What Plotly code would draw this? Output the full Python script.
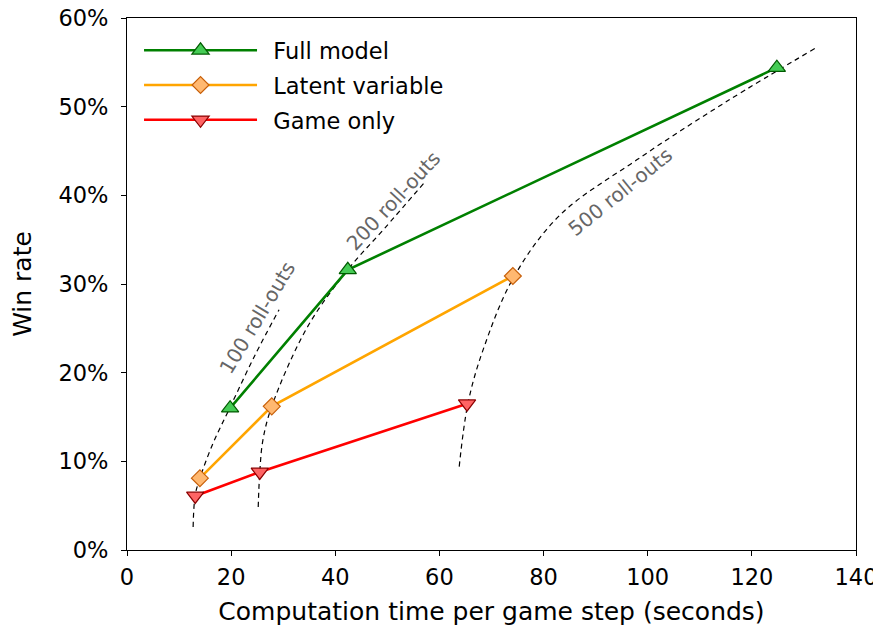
import plotly.graph_objects as go

# ---- data ----
series_names = ["Full model", "Latent variable", "Game only"]
full_x = [19.8, 42.4, 124.8]
full_y = [16.0, 31.6, 54.4]
latent_x = [14.0, 27.8, 74.1]
latent_y = [8.1, 16.2, 30.9]
game_x = [13.1, 25.5, 65.3]
game_y = [6.1, 8.8, 16.5]

# iso roll-out curves
r100_x = [12.7, 13.1, 14.0, 16.5, 19.8, 24.6, 29.2]
r100_y = [2.6, 6.2, 8.1, 12.0, 16.1, 22.0, 27.1]
r200_x = [25.2, 25.5, 26.1, 27.8, 34.6, 42.4, 49.5, 57.2]
r200_y = [4.85, 8.8, 12.4, 16.2, 25.1, 31.6, 36.3, 41.5]
r500_x = [63.8, 65.5, 68.4, 74.3, 83.2, 97.9, 115.2, 132.5]
r500_y = [9.4, 16.6, 22.6, 30.8, 37.8, 44.0, 50.6, 56.7]
rollout_labels = ["100 roll-outs", "200 roll-outs", "500 roll-outs"]

x_ticks = [0, 20, 40, 60, 80, 100, 120, 140]
y_ticks = [0, 10, 20, 30, 40, 50, 60]

FONT = "DejaVu Sans"
fig = go.Figure()

for cx, cy in [(r100_x, r100_y), (r200_x, r200_y), (r500_x, r500_y)]:
    fig.add_trace(go.Scatter(x=cx, y=cy, mode="lines", showlegend=False,
                             line=dict(color="black", width=1.2, dash="5px,4px",
                                       shape="spline", smoothing=1.0),
                             hoverinfo="skip"))

EN = "\u2002"
fig.add_trace(go.Scatter(x=full_x, y=full_y, name=EN + series_names[0], mode="lines+markers",
                         legendgroup="a",
                         line=dict(color="#008000", width=2.6),
                         marker=dict(symbol="triangle-up", size=15, color="#45cc55",
                                     line=dict(color="#005a00", width=1.2))))
fig.add_trace(go.Scatter(x=latent_x, y=latent_y, name=EN + series_names[1], mode="lines+markers",
                         legendgroup="b",
                         line=dict(color="#ffa500", width=2.6),
                         marker=dict(symbol="diamond", size=13, color="#ffb870",
                                     line=dict(color="#c8600a", width=1.2))))
fig.add_trace(go.Scatter(x=game_x, y=game_y, name=EN + series_names[2], mode="lines+markers",
                         legendgroup="c",
                         line=dict(color="#ff0000", width=2.6),
                         marker=dict(symbol="triangle-down", size=15, color="#ff6464",
                                     line=dict(color="#8b0000", width=1.2))))

ann_pos = [(24.97, 26.2, -59), (51.1, 39.4, -47), (94.7, 40.4, -39)]
for lab, (ax_, ay_, ang) in zip(rollout_labels, ann_pos):
    fig.add_annotation(x=ax_, y=ay_, xref="x", yref="y", text=lab, showarrow=False,
                       textangle=ang, font=dict(family=FONT, size=20, color="#666666"))

axis_common = dict(showline=True, linecolor="black", linewidth=1, mirror=True,
                   ticks="outside", ticklen=5, tickcolor="black", showgrid=False,
                   zeroline=False, automargin=False, ticklabeloverflow="allow",
                   tickfont=dict(family=FONT, size=22.5, color="black"))

# the page body adds an 8px offset, so the figure is sized to fit the window
fig.update_layout(
    width=873, height=618,
    margin=dict(l=119, r=25, t=10, b=76),
    plot_bgcolor="white", paper_bgcolor="white",
    font=dict(family=FONT, color="black"),
    xaxis=dict(range=[0, 140], tickvals=x_ticks, ticklabelstandoff=2,
               title=dict(text="Computation time per game step (seconds)",
                          font=dict(family=FONT, size=25), standoff=14),
               **axis_common),
    yaxis=dict(range=[0, 60], tickvals=y_ticks, ticktext=[f"{v}%" for v in y_ticks],
               ticklabelstandoff=8,
               title=dict(text="Win rate", font=dict(family=FONT, size=25), standoff=20),
               **axis_common),
    legend=dict(x=0.0165, y=0.979, xanchor="left", yanchor="top",
                font=dict(family=FONT, size=22.5), itemwidth=113,
                bgcolor="rgba(255,255,255,0)", tracegroupgap=2.5),
)

fig.write_html("out.html")
